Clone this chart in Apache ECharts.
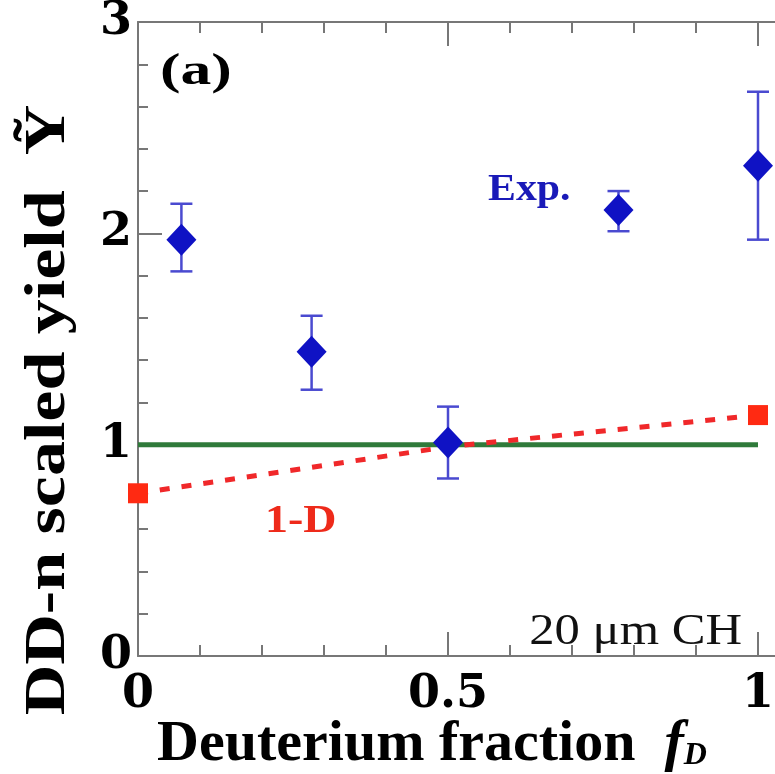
<!DOCTYPE html>
<html>
<head>
<meta charset="utf-8">
<script src="https://cdn.jsdelivr.net/npm/echarts@6/dist/echarts.min.js"></script>
<style>
  html, body { margin: 0; padding: 0; background: #fff; }
  #main { width: 775px; height: 774px; }
</style>
</head>
<body>
<div id="main"></div>
<script>
// experiment: fD, Y, err low, err high
const expX = [0.07, 0.28, 0.5, 0.775, 1.0];
const expY = [1.97, 1.44, 1.01, 2.11, 2.32];
const expLo = [1.82, 1.26, 0.84, 2.01, 1.97];
const expHi = [2.14, 1.61, 1.18, 2.20, 2.67];
// 1-D simulation
const simX = [0, 0.5, 1];
const simY = [0.77, 0.99, 1.14];
const refLine = [[0, 1], [1, 1]];

const FONT = '"Liberation Serif", "DejaVu Serif", serif';
const TICKFONT = '"DejaVu Serif", serif';
var myChart = echarts.init(document.getElementById('main'));

const expData = expX.map((x, i) => [x, expY[i]]);
const errData = expX.map((x, i) => [x, expLo[i], expHi[i]]);
const simData = simX.map((x, i) => ({
  value: [x, simY[i]],
  symbolSize: i === 1 ? 0 : 20
}));

const keepLabel = v => (v === 0 || v === 0.5 || v === 1) ? String(v) : '';
const axisGrey = { color: '#777', width: 2 };

var option = {
  animation: false,
  grid: { left: 138, top: 22, width: 682, height: 634, outerBoundsMode: 'none', containLabel: false },
  xAxis: [{
    type: 'value', min: 0, max: 1.1, interval: 0.5,
    axisLine: { lineStyle: axisGrey },
    axisTick: { inside: true, length: 24, lineStyle: axisGrey },
    minorTick: { show: true, splitNumber: 5, length: 11, lineStyle: axisGrey },
    splitLine: { show: false },
    axisLabel: {
      formatter: keepLabel, margin: 16, showMaxLabel: false,
      fontFamily: TICKFONT, fontWeight: 'bold', fontSize: 46, color: '#000'
    }
  }, {
    type: 'value', min: 0, max: 1.1, interval: 0.5, position: 'top',
    axisLine: { lineStyle: axisGrey },
    axisTick: { inside: true, length: 24, lineStyle: axisGrey },
    minorTick: { show: true, splitNumber: 5, length: 11, lineStyle: axisGrey },
    splitLine: { show: false },
    axisLabel: { show: false }
  }],
  yAxis: {
    type: 'value', min: 0, max: 3, interval: 1,
    axisLine: { show: true, lineStyle: axisGrey },
    axisTick: { show: true, inside: true, length: 24, lineStyle: axisGrey },
    minorTick: { show: true, splitNumber: 5, length: 10, lineStyle: axisGrey },
    splitLine: { show: false },
    axisLabel: {
      margin: 6,
      fontFamily: TICKFONT, fontWeight: 'bold', fontSize: 46, color: '#000'
    }
  },
  graphic: [
    {
      type: 'text', x: 50, y: 410, rotation: Math.PI / 2, scaleX: 1.25,
      style: {
        text: 'DD-n scaled yield  Ỹ', fill: '#000',
        font: 'bold 56px ' + FONT, align: 'center', verticalAlign: 'middle'
      }
    },
    {
      type: 'text', x: 432, y: 745,
      style: {
        rich: {
          n: { font: 'bold 58px ' + FONT, fill: '#000' },
          f: { font: 'italic bold 58px ' + FONT, fill: '#000' },
          s: { font: 'italic bold 32px ' + FONT, fill: '#000', padding: [22, 0, 0, 0] }
        },
        text: '{n|Deuterium fraction  }{f|f}{s|D}',
        align: 'center', verticalAlign: 'middle'
      }
    },
    {
      type: 'text', x: 160, y: 73, scaleX: 1.4,
      style: { text: '(a)', fill: '#000', font: 'bold 44px ' + FONT, verticalAlign: 'middle' }
    },
    {
      type: 'text', x: 488, y: 190, scaleX: 1.1,
      style: { text: 'Exp.', fill: '#1a1ab8', font: 'bold 38px ' + FONT, verticalAlign: 'middle' }
    },
    {
      type: 'text', x: 265, y: 522, scaleX: 1.15,
      style: { text: '1-D', fill: '#ee2a1a', font: 'bold 40px ' + FONT, verticalAlign: 'middle' }
    },
    {
      type: 'text', x: 742, y: 632, scaleX: 1.15,
      style: { text: '20 μm CH', fill: '#111', font: '44px ' + FONT, align: 'right', verticalAlign: 'middle' }
    }
  ],
  series: [{
    name: 'ref',
    type: 'line',
    data: refLine,
    symbol: 'none',
    lineStyle: { color: '#2f7a3a', width: 5 },
    z: 2
  }, {
    name: '1-D',
    type: 'line',
    data: simData,
    symbol: 'rect',
    itemStyle: { color: '#ff2a12' },
    lineStyle: { color: '#f0282a', width: 5, type: [10, 12] },
    z: 3
  }, {
    name: 'err',
    type: 'custom',
    data: errData,
    renderItem: function (params, api) {
      const lo = api.coord([api.value(0), api.value(1)]);
      const hi = api.coord([api.value(0), api.value(2)]);
      const w = 11;
      const st = { stroke: '#4a4ad0', lineWidth: 2.5 };
      return {
        type: 'group',
        children: [
          { type: 'line', shape: { x1: lo[0], y1: lo[1], x2: hi[0], y2: hi[1] }, style: st },
          { type: 'line', shape: { x1: lo[0] - w, y1: lo[1], x2: lo[0] + w, y2: lo[1] }, style: st },
          { type: 'line', shape: { x1: hi[0] - w, y1: hi[1], x2: hi[0] + w, y2: hi[1] }, style: st }
        ]
      };
    },
    z: 4
  }, {
    name: 'Exp.',
    type: 'scatter',
    data: expData,
    symbol: 'diamond',
    symbolSize: [30, 32],
    itemStyle: { color: '#0f12c4', opacity: 1 },
    z: 5
  }]
};
myChart.setOption(option);
</script>
</body>
</html>
